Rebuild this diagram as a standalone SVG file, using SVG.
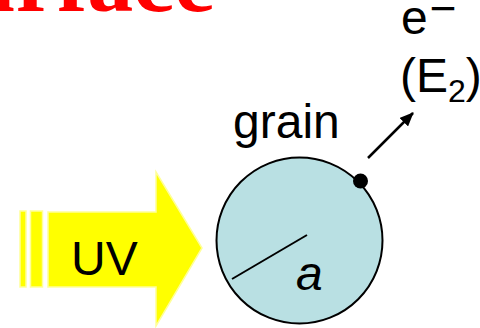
<svg xmlns="http://www.w3.org/2000/svg" width="480" height="328" viewBox="0 0 480 328">
<defs>
<style>
.lbl{font-family:"Liberation Sans",Arial,sans-serif;font-size:48px;fill:#000}
.title{font-family:"Liberation Serif","Times New Roman",serif;font-size:92px;font-weight:bold;fill:#ff0000}
.uv{fill:#ffff00;stroke:#ffff99;stroke-width:1.5}
</style>
<marker id="ah" viewBox="0 0 14 12" refX="13" refY="6" markerWidth="14" markerHeight="12" orient="auto" markerUnits="userSpaceOnUse">
<path d="M0,0 L14,6 L0,12 z" fill="#000"/>
</marker>
</defs>
<rect width="480" height="328" fill="#fff"/>
<text class="title" x="215" y="11" text-anchor="end">Surface</text>
<g id="uv-beam">
<rect class="uv" x="20" y="211" width="6" height="76"/>
<rect class="uv" x="30.5" y="211" width="12" height="76"/>
<path class="uv" d="M48,212 L156,212 L156,172 L202,248 L156,326 L156,287 L48,287 Z"/>
<text class="lbl" x="71" y="275">UV</text>
</g>
<g id="grain">
<circle cx="299.5" cy="240.5" r="83" fill="#b9e0e3" stroke="#000" stroke-width="2"/>
<line x1="232" y1="279" x2="307" y2="235" stroke="#000" stroke-width="2"/>
<text class="lbl" x="296" y="290" font-style="italic">a</text>
<text class="lbl" x="233" y="138">grain</text>
</g>
<g id="electron">
<circle cx="360.5" cy="181" r="7.5" fill="#000"/>
<text class="lbl" x="401" y="34">e<tspan font-size="46" dx="2" dy="-10.5">−</tspan></text>
<text class="lbl" x="400" y="92">(E<tspan font-size="32" dy="10">2</tspan><tspan dy="-10">)</tspan></text>
</g>
<g id="connectors">
<line x1="368" y1="158" x2="413" y2="113" stroke="#000" stroke-width="2.5" marker-end="url(#ah)"/>
</g>
</svg>
